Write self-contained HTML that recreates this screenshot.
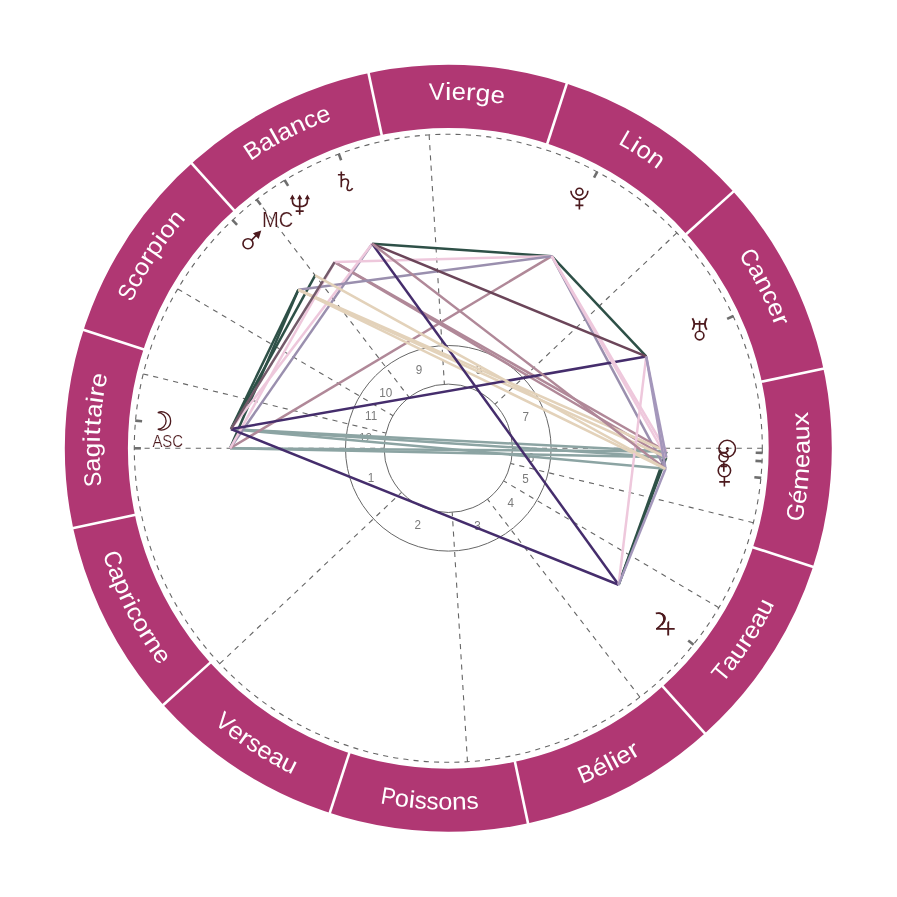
<!DOCTYPE html>
<html><head><meta charset="utf-8"><style>
html,body{margin:0;padding:0;background:#fff;width:897px;height:897px;overflow:hidden}
svg{display:block;will-change:transform}
text{font-family:"Liberation Sans",sans-serif}
.sg{font-size:24.0px;fill:#fff}
.hn{font-size:13px;fill:#7a7a7a}
.lb{fill:#4d1a1e;stroke:#fff;stroke-width:0.2px}
</style></head><body>
<svg width="897" height="897" viewBox="0 0 897 897">
<circle cx="448.3" cy="448.3" r="351.95" fill="none" stroke="#b03773" stroke-width="63.1"/>
<line x1="759.74" y1="382.1" x2="825.38" y2="368.15" stroke="#fff" stroke-width="2.6"/>
<line x1="684.92" y1="235.25" x2="734.78" y2="190.35" stroke="#fff" stroke-width="2.6"/>
<line x1="546.69" y1="145.48" x2="567.43" y2="81.67" stroke="#fff" stroke-width="2.6"/>
<line x1="382.1" y1="136.86" x2="368.15" y2="71.22" stroke="#fff" stroke-width="2.6"/>
<line x1="235.25" y1="211.68" x2="190.35" y2="161.82" stroke="#fff" stroke-width="2.6"/>
<line x1="145.48" y1="349.91" x2="81.67" y2="329.17" stroke="#fff" stroke-width="2.6"/>
<line x1="136.86" y1="514.5" x2="71.22" y2="528.45" stroke="#fff" stroke-width="2.6"/>
<line x1="211.68" y1="661.35" x2="161.82" y2="706.25" stroke="#fff" stroke-width="2.6"/>
<line x1="349.91" y1="751.12" x2="329.17" y2="814.93" stroke="#fff" stroke-width="2.6"/>
<line x1="514.5" y1="759.74" x2="528.45" y2="825.38" stroke="#fff" stroke-width="2.6"/>
<line x1="661.35" y1="684.92" x2="706.25" y2="734.78" stroke="#fff" stroke-width="2.6"/>
<line x1="751.12" y1="546.69" x2="814.93" y2="567.43" stroke="#fff" stroke-width="2.6"/>
<g class="sg">
<text transform="translate(589.36 780.93) rotate(-22.98) scale(0.989 1)" text-anchor="middle">B</text>
<text transform="translate(603.05 774.78) rotate(-25.36) scale(1.063 1)" text-anchor="middle">é</text>
<text transform="translate(612.3 770.24) rotate(-26.99) scale(1.200 1)" text-anchor="middle">l</text>
<text transform="translate(617.98 767.28) rotate(-28.01) scale(1.200 1)" text-anchor="middle">i</text>
<text transform="translate(627.01 762.31) rotate(-29.64) scale(1.063 1)" text-anchor="middle">e</text>
<text transform="translate(637.2 756.29) rotate(-31.52) scale(1.187 1)" text-anchor="middle">r</text>
</g>
<g class="sg">
<text transform="translate(727.34 677.81) rotate(-50.56) scale(0.961 1)" text-anchor="middle">T</text>
<text transform="translate(736.09 666.74) rotate(-52.8) scale(1.059 1)" text-anchor="middle">a</text>
<text transform="translate(744.55 655.12) rotate(-55.08) scale(1.095 1)" text-anchor="middle">u</text>
<text transform="translate(751.28 645.12) rotate(-56.99) scale(1.187 1)" text-anchor="middle">r</text>
<text transform="translate(757.57 635.09) rotate(-58.87) scale(1.063 1)" text-anchor="middle">e</text>
<text transform="translate(764.65 622.82) rotate(-61.12) scale(1.059 1)" text-anchor="middle">a</text>
<text transform="translate(771.35 610.1) rotate(-63.4) scale(1.095 1)" text-anchor="middle">u</text>
</g>
<g class="sg">
<text transform="translate(803.67 513.49) rotate(-79.6) scale(0.958 1)" text-anchor="middle">G</text>
<text transform="translate(806.21 497.66) rotate(-82.15) scale(1.063 1)" text-anchor="middle">é</text>
<text transform="translate(808.26 479.45) rotate(-85.05) scale(1.124 1)" text-anchor="middle">m</text>
<text transform="translate(809.37 461.15) rotate(-87.96) scale(1.063 1)" text-anchor="middle">e</text>
<text transform="translate(809.6 446.99) rotate(-90.21) scale(1.059 1)" text-anchor="middle">a</text>
<text transform="translate(809.26 432.61) rotate(-92.49) scale(1.095 1)" text-anchor="middle">u</text>
<text transform="translate(808.37 418.5) rotate(-94.73) scale(1.138 1)" text-anchor="middle">x</text>
</g>
<g class="sg">
<text transform="translate(742.88 261.71) rotate(57.65) scale(0.929 1)" text-anchor="middle">C</text>
<text transform="translate(750.69 274.66) rotate(60.13) scale(1.059 1)" text-anchor="middle">a</text>
<text transform="translate(757.59 287.27) rotate(62.5) scale(1.095 1)" text-anchor="middle">n</text>
<text transform="translate(763.66 299.5) rotate(64.74) scale(1.057 1)" text-anchor="middle">c</text>
<text transform="translate(769.16 311.77) rotate(66.95) scale(1.063 1)" text-anchor="middle">e</text>
<text transform="translate(773.61 322.74) rotate(68.89) scale(1.187 1)" text-anchor="middle">r</text>
</g>
<g class="sg">
<text transform="translate(623.24 146.66) rotate(30.11) scale(0.963 1)" text-anchor="middle">L</text>
<text transform="translate(631.51 151.61) rotate(31.7) scale(1.200 1)" text-anchor="middle">i</text>
<text transform="translate(640.16 157.13) rotate(33.38) scale(1.057 1)" text-anchor="middle">o</text>
<text transform="translate(651.99 165.28) rotate(35.74) scale(1.095 1)" text-anchor="middle">n</text>
</g>
<g class="sg">
<text transform="translate(437.1 99.78) rotate(-1.84) scale(0.986 1)" text-anchor="middle">V</text>
<text transform="translate(448.19 99.6) rotate(-0.02) scale(1.200 1)" text-anchor="middle">i</text>
<text transform="translate(458.49 99.75) rotate(1.67) scale(1.063 1)" text-anchor="middle">e</text>
<text transform="translate(470.32 100.3) rotate(3.62) scale(1.187 1)" text-anchor="middle">r</text>
<text transform="translate(482.34 101.27) rotate(5.6) scale(1.097 1)" text-anchor="middle">g</text>
<text transform="translate(496.66 102.97) rotate(7.97) scale(1.063 1)" text-anchor="middle">e</text>
</g>
<g class="sg">
<text transform="translate(257.06 156.72) rotate(-33.26) scale(0.989 1)" text-anchor="middle">B</text>
<text transform="translate(269.77 148.77) rotate(-30.8) scale(1.059 1)" text-anchor="middle">a</text>
<text transform="translate(278.67 143.64) rotate(-29.11) scale(1.200 1)" text-anchor="middle">l</text>
<text transform="translate(287.71 138.78) rotate(-27.42) scale(1.059 1)" text-anchor="middle">a</text>
<text transform="translate(300.61 132.42) rotate(-25.06) scale(1.095 1)" text-anchor="middle">n</text>
<text transform="translate(313.09 126.88) rotate(-22.82) scale(1.057 1)" text-anchor="middle">c</text>
<text transform="translate(325.57 121.91) rotate(-20.61) scale(1.063 1)" text-anchor="middle">e</text>
</g>
<g class="sg">
<text transform="translate(134.7 295.83) rotate(-64.07) scale(0.915 1)" text-anchor="middle">S</text>
<text transform="translate(140.91 283.66) rotate(-61.83) scale(1.057 1)" text-anchor="middle">c</text>
<text transform="translate(147.47 271.98) rotate(-59.62) scale(1.057 1)" text-anchor="middle">o</text>
<text transform="translate(153.6 261.9) rotate(-57.69) scale(1.187 1)" text-anchor="middle">r</text>
<text transform="translate(160.23 251.82) rotate(-55.7) scale(1.097 1)" text-anchor="middle">p</text>
<text transform="translate(166.29 243.21) rotate(-53.97) scale(1.200 1)" text-anchor="middle">i</text>
<text transform="translate(172.45 235) rotate(-52.29) scale(1.057 1)" text-anchor="middle">o</text>
<text transform="translate(181.47 223.82) rotate(-49.93) scale(1.095 1)" text-anchor="middle">n</text>
</g>
<g class="sg">
<text transform="translate(100.93 478.76) rotate(-95.01) scale(0.915 1)" text-anchor="middle">S</text>
<text transform="translate(99.97 464.4) rotate(-92.65) scale(1.059 1)" text-anchor="middle">a</text>
<text transform="translate(99.6 450.01) rotate(-90.28) scale(1.097 1)" text-anchor="middle">g</text>
<text transform="translate(99.71 439.49) rotate(-88.55) scale(1.200 1)" text-anchor="middle">i</text>
<text transform="translate(99.99 431.77) rotate(-87.28) scale(1.200 1)" text-anchor="middle">t</text>
<text transform="translate(100.54 422.74) rotate(-85.8) scale(1.200 1)" text-anchor="middle">t</text>
<text transform="translate(101.58 411.19) rotate(-83.89) scale(1.059 1)" text-anchor="middle">a</text>
<text transform="translate(102.82 401) rotate(-82.2) scale(1.200 1)" text-anchor="middle">i</text>
<text transform="translate(103.99 393.14) rotate(-80.9) scale(1.187 1)" text-anchor="middle">r</text>
<text transform="translate(106.06 381.48) rotate(-78.95) scale(1.063 1)" text-anchor="middle">e</text>
</g>
<g class="sg">
<text transform="translate(105.26 561.72) rotate(71.7) scale(0.929 1)" text-anchor="middle">C</text>
<text transform="translate(110.31 575.98) rotate(69.31) scale(1.059 1)" text-anchor="middle">a</text>
<text transform="translate(115.66 589.33) rotate(67.02) scale(1.097 1)" text-anchor="middle">p</text>
<text transform="translate(120.56 600.36) rotate(65.11) scale(1.187 1)" text-anchor="middle">r</text>
<text transform="translate(123.98 607.53) rotate(63.85) scale(1.200 1)" text-anchor="middle">i</text>
<text transform="translate(128.3 616.04) rotate(62.34) scale(1.057 1)" text-anchor="middle">c</text>
<text transform="translate(134.74 627.79) rotate(60.21) scale(1.057 1)" text-anchor="middle">o</text>
<text transform="translate(140.77 637.94) rotate(58.34) scale(1.187 1)" text-anchor="middle">r</text>
<text transform="translate(147.27 648.09) rotate(56.43) scale(1.095 1)" text-anchor="middle">n</text>
<text transform="translate(155.47 659.93) rotate(54.14) scale(1.063 1)" text-anchor="middle">e</text>
</g>
<g class="sg">
<text transform="translate(219.77 728.14) rotate(39.24) scale(0.986 1)" text-anchor="middle">V</text>
<text transform="translate(231.57 737.38) rotate(36.86) scale(1.063 1)" text-anchor="middle">e</text>
<text transform="translate(241.16 744.32) rotate(34.98) scale(1.187 1)" text-anchor="middle">r</text>
<text transform="translate(250.06 750.36) rotate(33.28) scale(1.002 1)" text-anchor="middle">s</text>
<text transform="translate(261.15 757.35) rotate(31.2) scale(1.063 1)" text-anchor="middle">e</text>
<text transform="translate(273.4 764.45) rotate(28.95) scale(1.059 1)" text-anchor="middle">a</text>
<text transform="translate(286.12 771.16) rotate(26.67) scale(1.095 1)" text-anchor="middle">u</text>
</g>
<g class="sg">
<text transform="translate(387.02 804.37) rotate(9.76) scale(0.900 1)" text-anchor="middle">P</text>
<text transform="translate(400.87 806.47) rotate(7.54) scale(1.057 1)" text-anchor="middle">o</text>
<text transform="translate(411.06 807.68) rotate(5.92) scale(1.200 1)" text-anchor="middle">i</text>
<text transform="translate(420.24 808.51) rotate(4.45) scale(1.002 1)" text-anchor="middle">s</text>
<text transform="translate(432.24 809.24) rotate(2.55) scale(1.002 1)" text-anchor="middle">s</text>
<text transform="translate(445.3 809.59) rotate(0.48) scale(1.057 1)" text-anchor="middle">o</text>
<text transform="translate(459.67 809.42) rotate(-1.8) scale(1.095 1)" text-anchor="middle">n</text>
<text transform="translate(472.97 808.76) rotate(-3.92) scale(1.002 1)" text-anchor="middle">s</text>
</g>
<circle cx="448.3" cy="448.3" r="314" fill="none" stroke="#666666" stroke-width="1.1" stroke-dasharray="5.1257 5.1257"/>
<circle cx="448.3" cy="448.3" r="102.8" fill="none" stroke="#666666" stroke-width="1"/>
<circle cx="448.3" cy="448.3" r="64.2" fill="none" stroke="#666666" stroke-width="1"/>
<line x1="134.3" y1="448.3" x2="384.1" y2="448.3" stroke="#666666" stroke-width="1.1" stroke-dasharray="5.1257 5.1257"/>
<line x1="219.78" y1="663.65" x2="401.58" y2="492.33" stroke="#666666" stroke-width="1.1" stroke-dasharray="5.1257 5.1257"/>
<line x1="467.47" y1="761.71" x2="452.22" y2="512.38" stroke="#666666" stroke-width="1.1" stroke-dasharray="5.1257 5.1257"/>
<line x1="639.89" y1="697.08" x2="487.47" y2="499.16" stroke="#666666" stroke-width="1.1" stroke-dasharray="5.1257 5.1257"/>
<line x1="718.85" y1="607.67" x2="503.62" y2="480.88" stroke="#666666" stroke-width="1.1" stroke-dasharray="5.1257 5.1257"/>
<line x1="753.37" y1="522.67" x2="510.67" y2="463.51" stroke="#666666" stroke-width="1.1" stroke-dasharray="5.1257 5.1257"/>
<line x1="762.3" y1="448.3" x2="512.5" y2="448.3" stroke="#666666" stroke-width="1.1" stroke-dasharray="5.1257 5.1257"/>
<line x1="676.82" y1="232.95" x2="495.02" y2="404.27" stroke="#666666" stroke-width="1.1" stroke-dasharray="5.1257 5.1257"/>
<line x1="429.13" y1="134.89" x2="444.38" y2="384.22" stroke="#666666" stroke-width="1.1" stroke-dasharray="5.1257 5.1257"/>
<line x1="256.71" y1="199.52" x2="409.13" y2="397.44" stroke="#666666" stroke-width="1.1" stroke-dasharray="5.1257 5.1257"/>
<line x1="177.75" y1="288.93" x2="392.98" y2="415.72" stroke="#666666" stroke-width="1.1" stroke-dasharray="5.1257 5.1257"/>
<line x1="143.23" y1="373.93" x2="385.93" y2="433.09" stroke="#666666" stroke-width="1.1" stroke-dasharray="5.1257 5.1257"/>
<text transform="translate(370.88 478.23) scale(0.9 1)" class="hn" text-anchor="middle" dominant-baseline="central">1</text>
<text transform="translate(417.64 524.95) scale(0.9 1)" class="hn" text-anchor="middle" dominant-baseline="central">2</text>
<text transform="translate(477.54 525.5) scale(0.9 1)" class="hn" text-anchor="middle" dominant-baseline="central">3</text>
<text transform="translate(510.74 502.64) scale(0.9 1)" class="hn" text-anchor="middle" dominant-baseline="central">4</text>
<text transform="translate(525.48 478.84) scale(0.9 1)" class="hn" text-anchor="middle" dominant-baseline="central">5</text>
<text transform="translate(531.01 457.44) scale(0.9 1)" class="hn" text-anchor="middle" dominant-baseline="central">6</text>
<text transform="translate(525.72 416.77) scale(0.9 1)" class="hn" text-anchor="middle" dominant-baseline="central">7</text>
<text transform="translate(478.96 370.05) scale(0.9 1)" class="hn" text-anchor="middle" dominant-baseline="central">8</text>
<text transform="translate(419.06 369.5) scale(0.9 1)" class="hn" text-anchor="middle" dominant-baseline="central">9</text>
<text transform="translate(385.86 392.36) scale(0.9 1)" class="hn" text-anchor="middle" dominant-baseline="central">10</text>
<text transform="translate(371.12 416.16) scale(0.9 1)" class="hn" text-anchor="middle" dominant-baseline="central">11</text>
<text transform="translate(365.59 437.56) scale(0.9 1)" class="hn" text-anchor="middle" dominant-baseline="central">12</text>
<line x1="134" y1="448.3" x2="140.9" y2="448.3" stroke="#6e6e6e" stroke-width="2.6"/>
<line x1="135.22" y1="420.63" x2="142.09" y2="421.24" stroke="#6e6e6e" stroke-width="2.6"/>
<line x1="232.35" y1="219.94" x2="237.09" y2="224.95" stroke="#6e6e6e" stroke-width="2.6"/>
<line x1="256.53" y1="199.28" x2="260.74" y2="204.75" stroke="#6e6e6e" stroke-width="2.6"/>
<line x1="284.55" y1="180.03" x2="288.14" y2="185.92" stroke="#6e6e6e" stroke-width="2.6"/>
<line x1="338.74" y1="153.71" x2="341.15" y2="160.18" stroke="#6e6e6e" stroke-width="2.6"/>
<line x1="597.31" y1="171.57" x2="594.03" y2="177.64" stroke="#6e6e6e" stroke-width="2.6"/>
<line x1="733.38" y1="315.97" x2="727.13" y2="318.87" stroke="#6e6e6e" stroke-width="2.6"/>
<line x1="762.57" y1="452.91" x2="755.67" y2="452.81" stroke="#6e6e6e" stroke-width="2.6"/>
<line x1="762.34" y1="461.19" x2="755.44" y2="460.9" stroke="#6e6e6e" stroke-width="2.6"/>
<line x1="761.21" y1="477.88" x2="754.34" y2="477.23" stroke="#6e6e6e" stroke-width="2.6"/>
<line x1="693.59" y1="644.81" x2="688.2" y2="640.5" stroke="#6e6e6e" stroke-width="2.6"/>
<line x1="666.48" y1="451.5" x2="618.59" y2="584.73" stroke="#2e5047" stroke-width="2.5"/>
<line x1="666.32" y1="457.25" x2="618.59" y2="584.73" stroke="#2e5047" stroke-width="2.5"/>
<line x1="551.75" y1="256.18" x2="646.22" y2="356.43" stroke="#2e5047" stroke-width="2.5"/>
<line x1="372.24" y1="243.79" x2="551.75" y2="256.18" stroke="#2e5047" stroke-width="2.5"/>
<line x1="230.95" y1="429.09" x2="298.38" y2="289.76" stroke="#2e5047" stroke-width="2.5"/>
<line x1="230.95" y1="429.09" x2="315.17" y2="275.42" stroke="#2e5047" stroke-width="2.5"/>
<line x1="230.1" y1="448.3" x2="298.38" y2="289.76" stroke="#2e5047" stroke-width="2.5"/>
<line x1="230.1" y1="448.3" x2="666.48" y2="451.5" stroke="#8ca4a3" stroke-width="2.5"/>
<line x1="230.1" y1="448.3" x2="666.32" y2="457.25" stroke="#8ca4a3" stroke-width="2.5"/>
<line x1="230.95" y1="429.09" x2="666.48" y2="451.5" stroke="#8ca4a3" stroke-width="2.5"/>
<line x1="230.95" y1="429.09" x2="666.32" y2="457.25" stroke="#8ca4a3" stroke-width="2.5"/>
<line x1="230.95" y1="429.09" x2="665.53" y2="468.83" stroke="#8ca4a3" stroke-width="2.5"/>
<line x1="230.1" y1="448.3" x2="372.24" y2="243.79" stroke="#9a8fae" stroke-width="2.5"/>
<line x1="551.75" y1="256.18" x2="665.53" y2="468.83" stroke="#9a8fae" stroke-width="2.5"/>
<line x1="334.62" y1="262.06" x2="666.48" y2="451.5" stroke="#b08898" stroke-width="2.5"/>
<line x1="334.62" y1="262.06" x2="666.32" y2="457.25" stroke="#b08898" stroke-width="2.5"/>
<line x1="230.1" y1="448.3" x2="551.75" y2="256.18" stroke="#b08898" stroke-width="2.5"/>
<line x1="230.95" y1="429.09" x2="372.24" y2="243.79" stroke="#eec8dc" stroke-width="2.5"/>
<line x1="230.1" y1="448.3" x2="334.62" y2="262.06" stroke="#eec8dc" stroke-width="2.5"/>
<line x1="334.62" y1="262.06" x2="551.75" y2="256.18" stroke="#eec8dc" stroke-width="2.5"/>
<line x1="298.38" y1="289.76" x2="551.75" y2="256.18" stroke="#9a8fae" stroke-width="2.5"/>
<line x1="298.38" y1="289.76" x2="666.48" y2="451.5" stroke="#e3d2ba" stroke-width="2.5"/>
<line x1="298.38" y1="289.76" x2="666.32" y2="457.25" stroke="#e3d2ba" stroke-width="2.5"/>
<line x1="298.38" y1="289.76" x2="665.53" y2="468.83" stroke="#e3d2ba" stroke-width="2.5"/>
<line x1="230.95" y1="429.09" x2="646.22" y2="356.43" stroke="#452d6c" stroke-width="2.5"/>
<line x1="230.95" y1="429.09" x2="618.59" y2="584.73" stroke="#452d6c" stroke-width="2.5"/>
<line x1="372.24" y1="243.79" x2="618.59" y2="584.73" stroke="#452d6c" stroke-width="2.5"/>
<line x1="551.75" y1="256.18" x2="666.48" y2="451.5" stroke="#eec8dc" stroke-width="2.5"/>
<line x1="551.75" y1="256.18" x2="666.32" y2="457.25" stroke="#eec8dc" stroke-width="2.5"/>
<line x1="646.22" y1="356.43" x2="618.59" y2="584.73" stroke="#eec8dc" stroke-width="2.5"/>
<line x1="372.24" y1="243.79" x2="646.22" y2="356.43" stroke="#6b4559" stroke-width="2.5"/>
<line x1="230.95" y1="429.09" x2="334.62" y2="262.06" stroke="#735a6a" stroke-width="2.5"/>
<line x1="372.24" y1="243.79" x2="665.53" y2="468.83" stroke="#b08898" stroke-width="2.5"/>
<line x1="665.53" y1="468.83" x2="618.59" y2="584.73" stroke="#a497bb" stroke-width="2.5"/>
<line x1="646.22" y1="356.43" x2="666.32" y2="457.25" stroke="#a497bb" stroke-width="2.5"/>
<line x1="646.22" y1="356.43" x2="665.53" y2="468.83" stroke="#a497bb" stroke-width="2.5"/>
<line x1="315.17" y1="275.42" x2="665.53" y2="468.83" stroke="#e3d2ba" stroke-width="2.5"/>

<g fill="none" stroke="#4d1a1e" stroke-width="1.65" stroke-linecap="butt">
<path d="M157.8,412.6 A9.1,9.1 0 1 1 157.8,429.2 A8.3,8.3 0 0 0 157.8,412.6 Z" stroke-linejoin="miter" stroke-width="1.35"/>
<circle cx="248.0" cy="243.7" r="5.0"/>
<path d="M251.6,240.1 L257.8,233.9"/>
<path d="M299.7,198 V214.7 M295.7,211.1 H303.7 M292.4,198 V201 C292.4,205 295.5,206.6 299.7,206.6 C303.9,206.6 307.4,205 307.4,201 V198"/>
<path d="M341.3,171.5 V187.3 M337.9,174.7 H344.8 M341.3,181.2 C342.5,178.8 347.8,177.6 348.4,181.5 C348.9,184.8 346.3,186.8 347.3,189.3 C348.2,191.3 351.5,190.7 352.6,188.2"/>
<circle cx="579.4" cy="191.7" r="3.5"/>
<path d="M570.9,190.8 A8.5,8.5 0 0 0 587.9,190.8 M579.4,199.8 V209.4 M575.4,205.4 H583.4"/>
<path d="M692.4,318.2 Q696.2,323.9 692.4,329.7 M706.8,318.2 Q703.0,323.9 706.8,329.7" stroke-width="1.9"/>
<path d="M694.3,323.8 H704.9 M699.6,320.7 V331.2"/>
<circle cx="699.6" cy="335.5" r="4.3"/>
<path d="M656.0,628.9 H674.7 M668.2,622.4 V635.5" stroke-width="1.9"/>
<path d="M655.8,613.3 C660.8,612.2 665.0,614.8 664.4,619.2 C663.9,622.8 660.6,626.0 656.6,628.9" stroke-width="1.7"/>
<circle cx="727.2" cy="448.6" r="8.3" stroke-width="1.6"/>
<path d="M719.4,450.0 C720.8,453.8 726.6,453.8 728.2,450.0"/>
<circle cx="723.6" cy="457.2" r="4.6" stroke-width="1.6"/>
<path d="M723.8,462.2 V471.8 M721,466.3 H726.9"/>
<circle cx="724.4" cy="470.6" r="6.2" stroke-width="1.6"/>
<path d="M724.4,476.8 V486.5 M719.2,481.9 H729.9" stroke-width="1.6"/>
</g>
<g fill="#4d1a1e">
<path d="M261.3,230.6 L252.9,233.2 L258.7,239.0 Z"/>
<path d="M292.4,194.6 L289.8,199.2 L295.0,199.2 Z M299.7,194.6 L297.1,199.2 L302.3,199.2 Z M307.4,194.6 L304.8,199.2 L310.0,199.2 Z"/>
<circle cx="727.4" cy="448.4" r="1.5"/>
<path d="M657.5,612.5 C662.8,612.3 666.8,615.0 665.7,619.8 C665.2,622.0 663.9,623.8 662.4,625.4 L661.2,624.4 C662.4,622.8 663.0,621.2 663.1,619.4 C663.3,616.0 661.0,613.6 657.5,612.5 Z"/>
<path d="M667.3,622.6 L669.2,620.6 L669.2,623.5 Z"/>
</g>

<text x="167.75" y="446.5" class="lb" font-size="16.1" text-anchor="middle" textLength="30.67" lengthAdjust="spacingAndGlyphs">ASC</text>
<text x="277.6" y="227.0" class="lb" font-size="21.4" text-anchor="middle" textLength="31.3" lengthAdjust="spacingAndGlyphs">MC</text>
</svg>
</body></html>
